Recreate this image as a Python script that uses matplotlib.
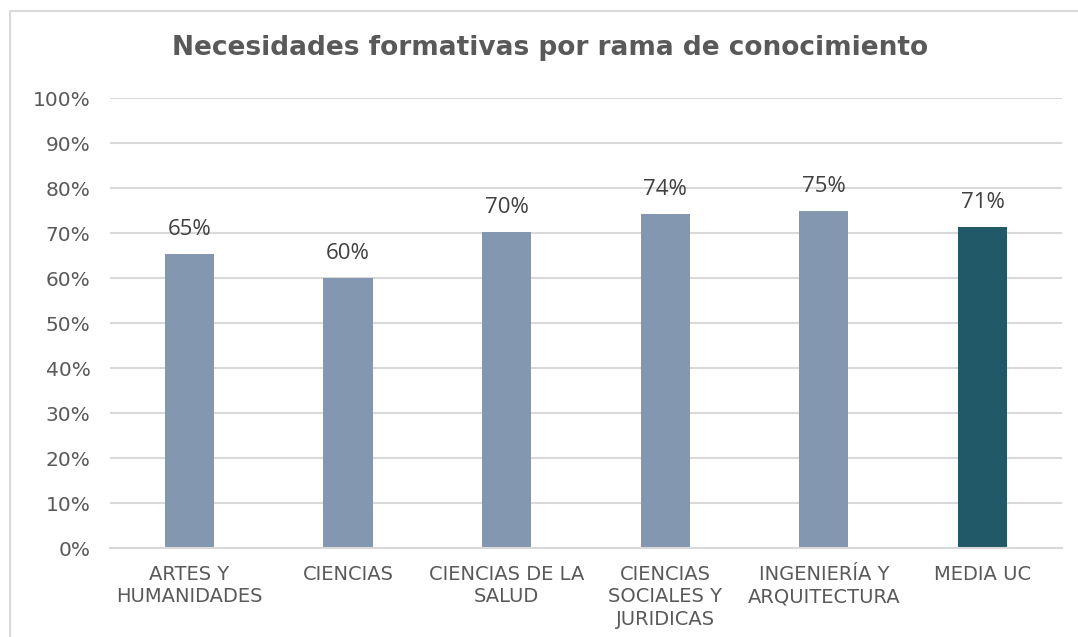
import matplotlib.pyplot as plt
from matplotlib.patches import Rectangle
from matplotlib.ticker import PercentFormatter

plt.rcParams["font.family"] = ["DejaVu Sans"]

# data
categories = ["ARTES Y\nHUMANIDADES", "CIENCIAS", "CIENCIAS DE LA\nSALUD",
              "CIENCIAS\nSOCIALES Y\nJURIDICAS", "INGENIERÍA Y\nARQUITECTURA", "MEDIA UC"]
values = [65.4, 60.1, 70.3, 74.3, 75.0, 71.3]
bar_colors = ["#8497b0"] * 5 + ["#215968"]

grey = "#595959"
fig = plt.figure(figsize=(10.78, 6.37), dpi=100)
ax = fig.add_axes([0.102, 0.1397, 0.883, 0.7063])

x = range(len(categories))
bars = ax.bar(x, values, width=0.31, color=bar_colors, zorder=3)

# data labels
for b, v in zip(bars, values):
    ax.annotate(f"{v:.0f}%", (b.get_x() + b.get_width() / 2, v),
                xytext=(0, 10), textcoords="offset points", ha="center", va="bottom",
                fontsize=16, color="#404040", family="Open Sans")

ax.set_xlim(-0.5, len(categories) - 0.5)
ax.set_ylim(0, 100)
ax.set_yticks(range(0, 101, 10))
ax.yaxis.set_major_formatter(PercentFormatter(decimals=0))
ax.set_xticks(list(x))
ax.set_xticklabels(categories, fontsize=14, color=grey, linespacing=1.25)
ax.tick_params(axis="y", labelsize=14.5, labelcolor=grey, length=0, pad=14)
ax.tick_params(axis="x", length=0, pad=12)
ax.yaxis.grid(True, color="#d9d9d9", linewidth=1.5, zorder=0)

for s in ["top", "right", "left"]:
    ax.spines[s].set_visible(False)
ax.spines["bottom"].set_color("#d9d9d9")
ax.spines["bottom"].set_linewidth(1.5)
ax.spines["bottom"].set_zorder(4)

fig.text(550 / 1078, 1 - 48 / 637, "Necesidades formativas por rama de conocimiento",
         ha="center", va="center", fontsize=19, fontweight="bold", color=grey)

# chart area border
fig.patches.append(Rectangle((10 / 1078, -0.05), 1.1, 1 - 11 / 637 + 0.05,
                             transform=fig.transFigure, fill=False,
                             edgecolor="#d9d9d9", linewidth=1.5))

plt.savefig("out.png", dpi=100)
